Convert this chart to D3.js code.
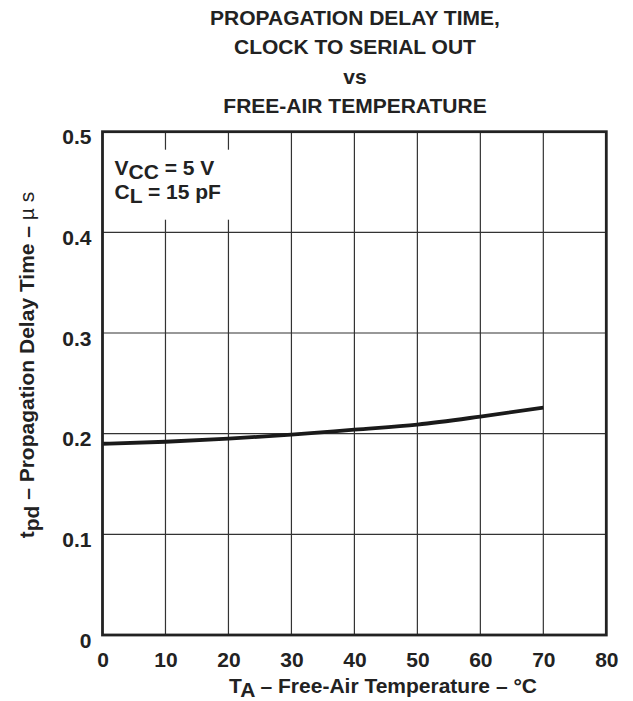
<!DOCTYPE html>
<html>
<head>
<meta charset="utf-8">
<script src="https://cdn.jsdelivr.net/npm/d3@7"></script>
<style>
  body { margin: 0; background: #fff; }
  svg text { font-family: "Liberation Sans", Arial, sans-serif; font-weight: bold; fill: #222; }
</style>
</head>
<body>
<div id="chart"></div>
<script>
// DATA
const temps = [0, 10, 20, 30, 40, 50, 60, 70];
const delay = [0.190, 0.192, 0.195, 0.199, 0.204, 0.209, 0.217, 0.226];
const xTicks = [0, 10, 20, 30, 40, 50, 60, 70, 80];
const yTicks = [0, 0.1, 0.2, 0.3, 0.4, 0.5];
const titleLines = ["PROPAGATION DELAY TIME,", "CLOCK TO SERIAL OUT", "vs", "FREE-AIR TEMPERATURE"];

const W = 633, H = 701;
const MARGIN = { TOP: 131.7, LEFT: 102.5, RIGHT: 633 - 606.3, BOTTOM: 701 - 635 };
const WIDTH = W - MARGIN.LEFT - MARGIN.RIGHT;
const HEIGHT = H - MARGIN.TOP - MARGIN.BOTTOM;
const FS = 21;

const svg = d3.select("#chart").append("svg")
  .attr("width", W)
  .attr("height", H);

const g = svg.append("g")
  .attr("transform", `translate(${MARGIN.LEFT}, ${MARGIN.TOP})`);

// SCALES
const x = d3.scaleLinear().domain([0, 80]).range([0, WIDTH]);
const y = d3.scaleLinear().domain([0, 0.5]).range([HEIGHT, 0]);

// GRID
g.selectAll(".vgrid")
  .data(xTicks.slice(1, -1))
  .enter().append("line")
  .attr("x1", d => x(d)).attr("x2", d => x(d))
  .attr("y1", 0).attr("y2", HEIGHT)
  .attr("stroke", "#333").attr("stroke-width", 1.2);

g.selectAll(".hgrid")
  .data(yTicks.slice(1, -1))
  .enter().append("line")
  .attr("x1", 0).attr("x2", WIDTH)
  .attr("y1", d => y(d)).attr("y2", d => y(d))
  .attr("stroke", "#333").attr("stroke-width", 1.2);

// CONDITIONS BOX (white background breaks the grid)
g.append("rect")
  .attr("x", 6).attr("y", 18)
  .attr("width", 122).attr("height", 70)
  .attr("fill", "#fff");

const note = g.append("g").attr("transform", "translate(12, 0)");
const n1 = note.append("text").attr("x", 0).attr("y", 43).style("font-size", FS + "px");
n1.append("tspan").text("V");
n1.append("tspan").attr("dy", 4).text("CC");
n1.append("tspan").attr("dy", -4).text(" = 5 V");
const n2 = note.append("text").attr("x", 0).attr("y", 67).style("font-size", FS + "px");
n2.append("tspan").text("C");
n2.append("tspan").attr("dy", 4).text("L");
n2.append("tspan").attr("dy", -4).text(" = 15 pF");

// CURVE
const line = d3.line()
  .x((d, i) => x(temps[i]))
  .y(d => y(d))
  .curve(d3.curveMonotoneX);

g.append("path")
  .datum(delay)
  .attr("fill", "none")
  .attr("stroke", "#1a1a1a")
  .attr("stroke-width", 3.8)
  .attr("d", line);

// FRAME
g.append("rect")
  .attr("x", 0).attr("y", 0)
  .attr("width", WIDTH).attr("height", HEIGHT)
  .attr("fill", "none")
  .attr("stroke", "#222")
  .attr("stroke-width", 2.8);

// AXES (labels only)
const xAxis = g.append("g")
  .attr("transform", `translate(0, ${HEIGHT})`)
  .call(d3.axisBottom(x).tickValues(xTicks).tickSize(0).tickFormat(d3.format("d")));
xAxis.select(".domain").remove();
xAxis.selectAll("text")
  .attr("y", 32).attr("dy", null)
  .style("font-size", FS + "px")
  .attr("fill", "#222");

const yAxis = g.append("g")
  .call(d3.axisLeft(y).tickValues(yTicks).tickSize(0).tickFormat(d => d === 0 ? "0" : d3.format(".1f")(d)));
yAxis.select(".domain").remove();
yAxis.selectAll("text")
  .attr("x", -11).attr("y", 12).attr("dy", null)
  .style("font-size", FS + "px")
  .attr("fill", "#222");

// TITLE
svg.selectAll(".title")
  .data(titleLines)
  .enter().append("text")
  .attr("x", 355)
  .attr("y", (d, i) => [25, 54, 84, 113][i])
  .attr("text-anchor", "middle")
  .style("font-size", FS + "px")
  .text(d => d);

// X AXIS LABEL
const xl = svg.append("text")
  .attr("x", 383).attr("y", 693)
  .attr("text-anchor", "middle")
  .style("font-size", FS + "px");
xl.append("tspan").text("T");
xl.append("tspan").attr("dy", 4).text("A");
xl.append("tspan").attr("dy", -4).text(" \u2013 Free-Air Temperature \u2013 \u00B0C");

// Y AXIS LABEL
const yl = svg.append("text")
  .attr("transform", "translate(34, 365) rotate(-90)")
  .attr("text-anchor", "middle")
  .style("font-size", FS + "px");
yl.append("tspan").text("t");
yl.append("tspan").attr("dy", 5).text("pd");
yl.append("tspan").attr("dy", -5).text(" \u2013 Propagation Delay Time \u2013 ");
yl.append("tspan").style("font-weight", "normal").text("\u00B5 s");
</script>
</body>
</html>
